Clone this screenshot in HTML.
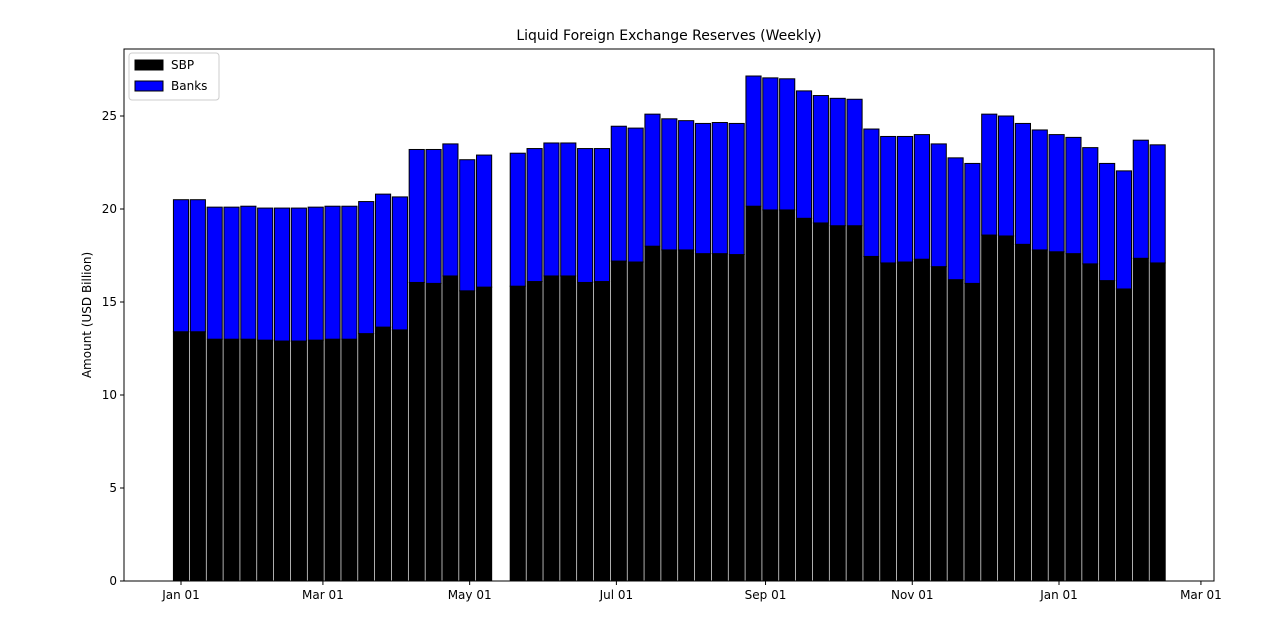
<!DOCTYPE html>
<html><head><meta charset="utf-8"><style>
body{margin:0;background:#fff;font-family:"Liberation Sans","DejaVu Sans",sans-serif}
svg text{font-family:"DejaVu Sans","Liberation Sans",sans-serif;font-size:12px;fill:#000}
</style></head><body>
<svg id="chart" width="1280" height="632" xmlns="http://www.w3.org/2000/svg">
<rect width="1280" height="632" fill="#fff"/>
<text x="669" y="40" text-anchor="middle" font-size="14" style="font-size:14px">Liquid Foreign Exchange Reserves (Weekly)</text>
<text transform="translate(91,315) rotate(-90)" text-anchor="middle">Amount (USD Billion)</text>
<g id="bars"></g>
<g id="axes"></g>
<g>
<rect x="129" y="53" width="90" height="47" fill="#fff" stroke="#ccc" rx="3"/>
<rect x="135" y="60" width="28" height="10" fill="#000" stroke="#000"/>
<text x="171" y="69">SBP</text>
<rect x="135" y="81" width="28" height="10" fill="#0000ff" stroke="#000"/>
<text x="171" y="90">Banks</text>
</g>
</svg>
<script>
const weekIndex=[0,1,2,3,4,5,6,7,8,9,10,11,12,13,14,15,16,17,18,20,21,22,23,24,25,26,27,28,29,30,31,32,33,34,35,36,37,38,39,40,41,42,43,44,45,46,47,48,49,50,51,52,53,54,55,56,57,58];
const totals=[20.5,20.5,20.1,20.1,20.15,20.05,20.05,20.05,20.1,20.15,20.15,20.4,20.8,20.65,23.2,23.2,23.5,22.65,22.9,23.0,23.25,23.55,23.55,23.25,23.25,24.45,24.35,25.1,24.85,24.75,24.6,24.65,24.6,27.15,27.05,27.0,26.35,26.1,25.95,25.9,24.3,23.9,23.9,24.0,23.5,22.75,22.45,25.1,25.0,24.6,24.25,24.0,23.85,23.3,22.45,22.05,23.7,23.45];
const sbp=[13.4,13.4,13.0,13.0,13.0,12.95,12.9,12.9,12.95,13.0,13.0,13.3,13.65,13.5,16.05,16.0,16.4,15.6,15.8,15.85,16.1,16.4,16.4,16.05,16.1,17.2,17.15,18.0,17.8,17.8,17.6,17.6,17.55,20.15,19.95,19.95,19.5,19.25,19.1,19.1,17.45,17.1,17.15,17.3,16.9,16.2,16.0,18.6,18.55,18.1,17.8,17.7,17.6,17.05,16.15,15.7,17.35,17.1];
const xTickDays=[0,59,120,181,243,304,365,424];
const xTickLabels=["Jan 01","Mar 01","May 01","Jul 01","Sep 01","Nov 01","Jan 01","Mar 01"];
const yTicks=[0,5,10,15,20,25];
const L=124,R=1214,T=49,B=581;
const xDay=d=>181+d*2.4055;
const y=v=>B-v*18.6;
const NS="http://www.w3.org/2000/svg";
function mk(tag,attrs,parent){const e=document.createElementNS(NS,tag);for(const k in attrs)e.setAttribute(k,attrs[k]);parent.appendChild(e);return e;}
const bars=document.getElementById('bars'),axes=document.getElementById('axes');
const bw=6.3*2.4055;
weekIndex.forEach((w,i)=>{
  const cx=xDay(w*7);
  const b=mk('rect',{x:cx-bw/2,y:y(sbp[i]),width:bw,height:y(0)-y(sbp[i]),fill:'#000',stroke:'#000','stroke-width':1},bars);
  
  
  const t=mk('rect',{x:cx-bw/2,y:y(totals[i]),width:bw,height:y(sbp[i])-y(totals[i]),fill:'#0000ff',stroke:'#000','stroke-width':1},bars);
  
  
});
const frame=mk('rect',{x:L,y:T,width:R-L,height:B-T,fill:'none',stroke:'#000','stroke-width':1},axes);


yTicks.forEach(v=>{
  mk('line',{x1:L-4,x2:L,y1:y(v),y2:y(v),stroke:'#000'},axes);
  const t=mk('text',{x:L-7,y:y(v)+4,'text-anchor':'end'},axes);t.textContent=v;
  
  
});
xTickDays.forEach((d,i)=>{
  const x=xDay(d);
  mk('line',{x1:x,x2:x,y1:B,y2:B+4,stroke:'#000'},axes);
  const t=mk('text',{x:x,y:B+18,'text-anchor':'middle'},axes);t.textContent=xTickLabels[i];
  
  
});
</script>
</body></html>
